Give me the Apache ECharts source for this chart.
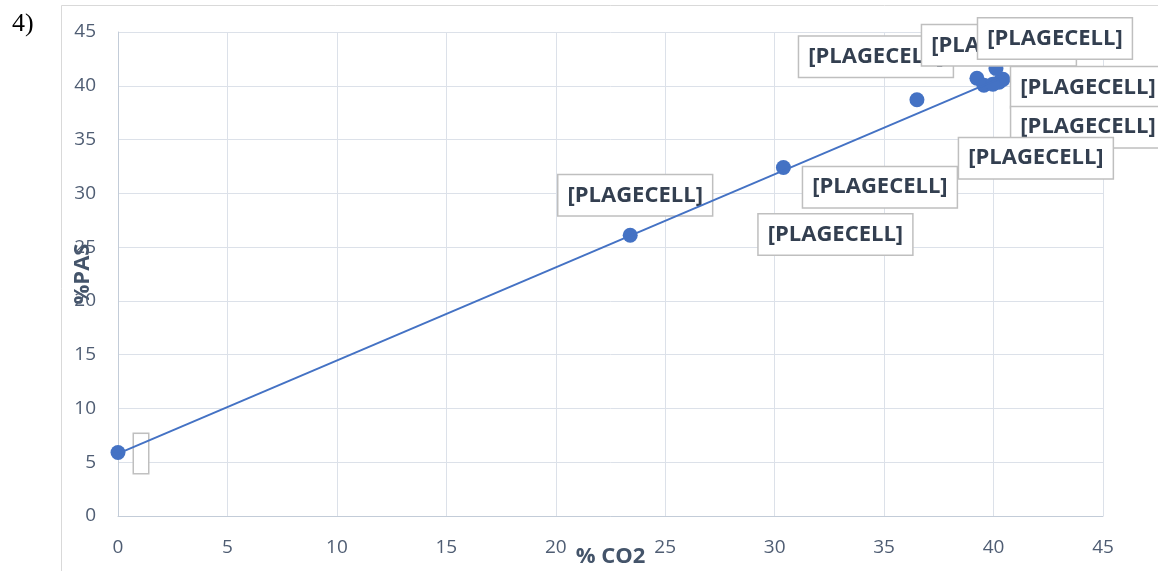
<!DOCTYPE html>
<html>
<head>
<meta charset="utf-8">
<script src="https://cdn.jsdelivr.net/npm/echarts@6/dist/echarts.min.js"></script>
<style>
html,body{margin:0;padding:0;background:#fff;}
#chart{width:1158px;height:571px;}
</style>
</head>
<body>
<div id="chart"></div>
<script>
// ---- data ----
const co2 = [0, 23.4, 30.4, 36.5, 39.24, 39.56, 40.43, 40.25, 39.97, 40.11];
const pas = [5.9, 26.1, 32.4, 38.7, 40.7, 40.06, 40.6, 40.33, 40.15, 41.6];
const pointLabels = ['', '[PLAGECELL]', '[PLAGECELL]', '[PLAGECELL]', '[PLAGECELL]',
                     '[PLAGECELL]', '[PLAGECELL]', '[PLAGECELL]', '[PLAGECELL]', '[PLAGECELL]'];
// linear trendline end points
const trendX = [0, 40.43];
const trendY = [5.8, 40.8];
const xTicks = [0, 5, 10, 15, 20, 25, 30, 35, 40, 45];
const yTicks = [0, 5, 10, 15, 20, 25, 30, 35, 40, 45];
const xTitle = '% CO2';
const yTitle = '%PAS';

// ---- layout of the manually placed data labels (pixel offsets from the point) ----
const labelOffsets = [[23, 1], [5, -40], [52, 67], [-41, -43], [22, -33],
                      [-104, 102], [85, 8], [89, 45], [43, 74], [59, -30]];

const blue = '#4472C4';
const tickColor = '#4f5d73';
const titleColor = '#44546A';
const tickFont = '"Open Sans", Lato, sans-serif';
const labelFont = '"Open Sans", Lato, sans-serif';

const scatterData = co2.map((x, i) => {
  const item = { value: [x, pas[i]], name: pointLabels[i] };
  if (pointLabels[i] === '') {
    item.label = { formatter: ' ', width: 14, height: 39, padding: 0 };
  }
  return item;
});

const chart = echarts.init(document.getElementById('chart'), null, { renderer: 'canvas' });
chart.setOption({
  animation: false,
  backgroundColor: '#fff',
  graphic: [
    { type: 'rect', z: -10, shape: { x: 61.5, y: 5.5, width: 1200, height: 700 },
      style: { fill: 'none', stroke: '#d9d9d9', lineWidth: 1 } },
    { type: 'text', left: 12, top: 11,
      style: { text: '4)', font: '26px "Liberation Serif", "Times New Roman", serif', fill: '#000' } }
  ],
  grid: { left: 118, right: 55, top: 32, bottom: 55, containLabel: false, outerBoundsMode: 'none' },
  xAxis: {
    type: 'value', min: 0, max: 45, interval: 5,
    name: xTitle, nameLocation: 'middle', nameGap: 30, nameMoveOverlap: false,
    nameTextStyle: { color: titleColor, fontSize: 22, fontWeight: 'bold', fontFamily: labelFont },
    axisLine: { show: true, lineStyle: { color: '#c3ccd8', width: 1 } },
    axisTick: { show: false },
    axisLabel: { color: tickColor, fontSize: 19, margin: 22, fontFamily: tickFont,
      formatter: v => xTicks.includes(v) ? String(v) : '' },
    splitLine: { show: true, lineStyle: { color: '#dce1e9', width: 1 } }
  },
  yAxis: {
    type: 'value', min: 0, max: 45, interval: 5,
    name: yTitle, nameLocation: 'middle', nameGap: 24, nameMoveOverlap: false,
    nameTextStyle: { color: titleColor, fontSize: 22, fontWeight: 'bold', fontFamily: labelFont },
    axisLine: { show: true, lineStyle: { color: '#c3ccd8', width: 1 } },
    axisTick: { show: false },
    axisLabel: { color: tickColor, fontSize: 19, margin: 22, fontFamily: tickFont,
      formatter: v => yTicks.includes(v) ? String(v) : '' },
    splitLine: { show: true, lineStyle: { color: '#dce1e9', width: 1 } }
  },
  series: [
    {
      type: 'scatter', z: 2,
      symbolSize: 15,
      itemStyle: { color: blue, opacity: 1 },
      data: scatterData,
      label: {
        show: true, position: 'inside',
        formatter: p => p.name,
        color: '#333F50', fontSize: 22, fontWeight: 'bold', fontFamily: labelFont,
        backgroundColor: '#fff', borderColor: '#bfbfbf', borderWidth: 1.5,
        padding: [9, 9, 9, 9]
      },
      labelLayout: p => ({ dx: labelOffsets[p.dataIndex][0], dy: labelOffsets[p.dataIndex][1] }),
      emphasis: { disabled: true }
    },
    {
      type: 'line', z: 3,
      data: trendX.map((x, i) => [x, trendY[i]]),
      symbol: 'none',
      lineStyle: { color: blue, width: 2 },
      emphasis: { disabled: true },
      silent: true
    }
  ]
});
</script>
</body>
</html>
